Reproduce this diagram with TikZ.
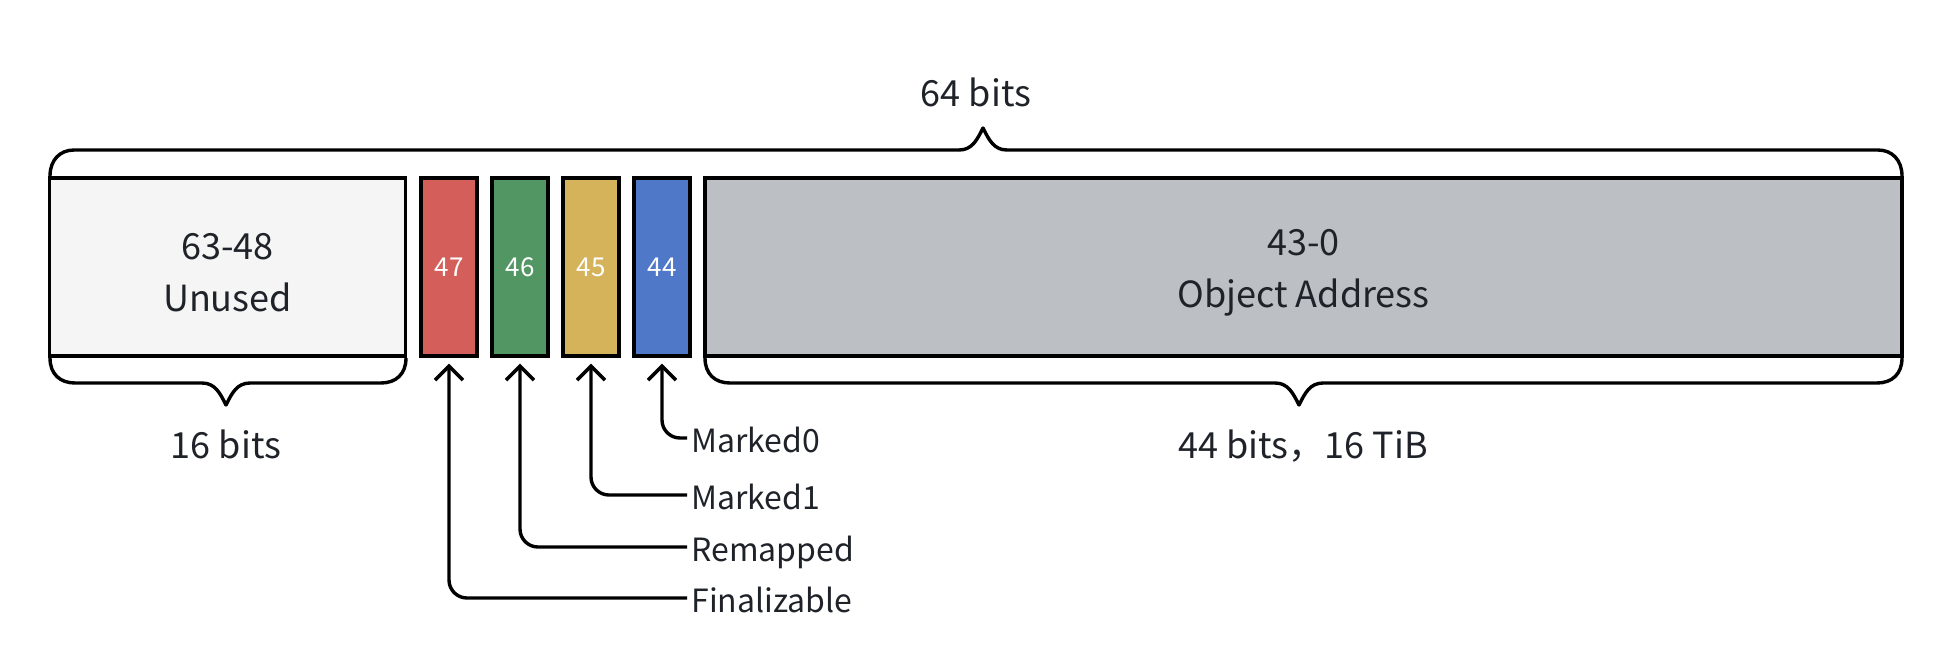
\documentclass[tikz,border=0pt]{standalone}
\usepackage{fontspec}
\setmainfont{Noto Sans CJK SC}
\usetikzlibrary{arrows.meta}
\definecolor{ink}{HTML}{1F2329}
\definecolor{unusedfill}{HTML}{F5F5F5}
\definecolor{bitred}{HTML}{D35E5A}
\definecolor{bitgreen}{HTML}{529664}
\definecolor{bityellow}{HTML}{D4B35A}
\definecolor{bitblue}{HTML}{5078C8}
\definecolor{addrfill}{HTML}{BCBFC3}
\begin{document}
\begin{tikzpicture}[x=0.5pt, y=-0.5pt,
  field/.style={draw=black, line width=1.7pt, minimum height=89pt, inner sep=0pt},
  fieldtext/.style={text=ink, font=\fontsize{18}{26}\selectfont, align=center},
  bit/.style={field, minimum width=28pt, text=white, font=\fontsize{13}{15}\selectfont},
  bracepath/.style={line width=1.7pt, line join=round},
  pointer/.style={line width=1.7pt, rounded corners=9pt, -{Straight Barb[length=7pt,width=14pt]}, shorten >=3pt},
  flag/.style={anchor=west, inner sep=2pt, text=ink, text height=14pt, text depth=0pt, font=\fontsize{16}{19}\selectfont},
  size/.style={anchor=base, text=ink, font=\fontsize{18}{22}\selectfont}]
\useasboundingbox (0,0) rectangle (1954,670);
\node[field, fill=unusedfill, minimum width=178pt] (unused) at (227.5,267) {};
\node[fieldtext] (unusedtext) at (227.5,273) {63-48\\Unused};
\node[bit, fill=bitred] (b47) at (449,267) {47};
\node[bit, fill=bitgreen] (b46) at (520,267) {46};
\node[bit, fill=bityellow] (b45) at (591,267) {45};
\node[bit, fill=bitblue] (b44) at (662,267) {44};
\node[field, fill=addrfill, minimum width=598.5pt] (addr) at (1303.5,267) {};
\node[fieldtext] (addrtext) at (1303.5,273) {43-0\\Object Address};
\draw[bracepath] (50,176) .. controls (50,160) and (60,150) .. (74,150) -- (959,150) .. controls (972,150) and (977,140) .. (983,128) .. controls (989,140) and (994,150) .. (1007,150) -- (1878,150) .. controls (1892,150) and (1902,160) .. (1902,176);
\draw[bracepath] (50,358) .. controls (50,374) and (60,383) .. (75,383) -- (202,383) .. controls (215,383) and (220,393) .. (226,405) .. controls (232,393) and (237,383) .. (250,383) -- (381,383) .. controls (396,383) and (406,374) .. (406,358);
\draw[bracepath] (705,358) .. controls (705,374) and (715,383) .. (730,383) -- (1275,383) .. controls (1288,383) and (1293,393) .. (1299,405) .. controls (1305,393) and (1310,383) .. (1323,383) -- (1877,383) .. controls (1892,383) and (1902,374) .. (1902,358);
\node[size] (total) at (976,106) {64 bits};
\node[size] (lowsize) at (226,458) {16 bits};
\node[size] (addrsize) at (1303,458) {44 bits，16 TiB};
\node[flag] (mark0) at (687,438) {Marked0};
\node[flag] (mark1) at (687,495) {Marked1};
\node[flag] (remap) at (687,547) {Remapped};
\node[flag] (final) at (687,598) {Finalizable};
\draw[pointer] (mark0.west) -| (b44.south);
\draw[pointer] (mark1.west) -| (b45.south);
\draw[pointer] (remap.west) -| (b46.south);
\draw[pointer] (final.west) -| (b47.south);
\end{tikzpicture}
\end{document}
